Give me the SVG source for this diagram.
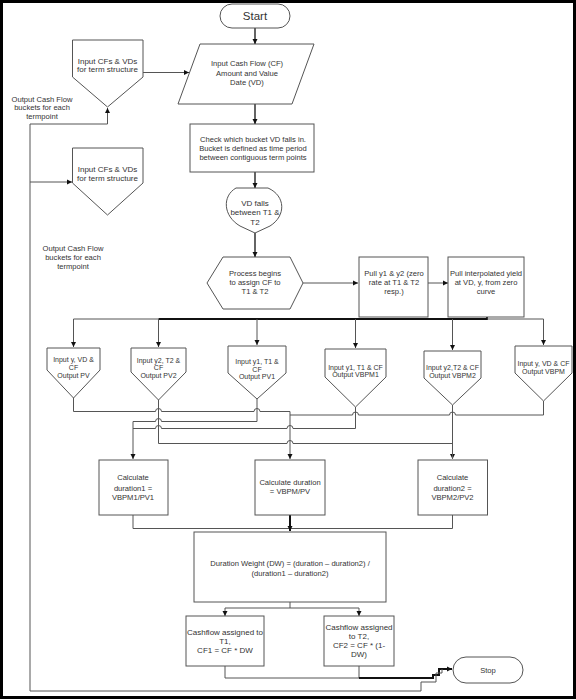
<svg xmlns="http://www.w3.org/2000/svg" width="576" height="700" viewBox="0 0 576 700">
<style>
text{font-family:"Liberation Sans",Arial,sans-serif;font-size:7.6px;fill:#333;text-anchor:middle}
.n{fill:#fff;stroke:#555;stroke-width:1}
.c{fill:none;stroke:#555;stroke-width:1}
.k{fill:none;stroke:#111;stroke-width:1.3}
.t{fill:none;stroke:#111;stroke-width:2}
.s7{font-size:7px}
.s8{font-size:8px}
</style>
<defs>
<marker id="a" markerUnits="userSpaceOnUse" markerWidth="6" markerHeight="6" refX="5" refY="3" orient="auto">
<path d="M0,0.5 L5,3 L0,5.5 Z" fill="#111"/>
</marker>
</defs>
<rect x="0" y="0" width="576" height="700" fill="#fff"/>
<rect x="1.5" y="1.5" width="573" height="696" fill="none" stroke="#000" stroke-width="3"/>

<g id="connectors">
<path class="k" d="M255,28 V44" marker-end="url(#a)"/>
<path class="k" d="M255,104 V124" marker-end="url(#a)"/>
<path class="k" d="M255,172 V188" marker-end="url(#a)"/>
<path class="k" d="M255,233 V257" marker-end="url(#a)"/>
<path class="c" d="M303,283 H358" marker-end="url(#a)"/>
<path class="c" d="M428,283 H448" marker-end="url(#a)"/>
<path class="c" d="M143,72.5 H189" marker-end="url(#a)"/>
<path class="t" d="M487,317 V319 H158.5"/>
<path class="c" d="M158.5,319 H73.5 V347" marker-end="url(#a)"/>
<path class="c" d="M487,319 H543.5 V345" marker-end="url(#a)"/>
<path class="c" d="M158.5,319 V347" marker-end="url(#a)"/>
<path class="c" d="M257,319 V345" marker-end="url(#a)"/>
<path class="c" d="M355.5,319 V348" marker-end="url(#a)"/>
<path class="c" d="M452.5,319 V350" marker-end="url(#a)"/>
<path class="c" d="M73.5,398 V411.5 H155.5 a3,3 0 0 1 6,0 H254 a3,3 0 0 1 6,0 H290 V459" marker-end="url(#a)"/>
<path class="c" d="M290,415 H352.5 a3,3 0 0 1 6,0 H449.5 a3,3 0 0 1 6,0 H543.5 V401"/>
<path class="c" d="M257,399 V421.5 H161.5 a3,3 0 0 0 -6,0 H133 V459" marker-end="url(#a)"/>
<path class="c" d="M355.5,407 V428.5 H293 a3,3 0 0 0 -6,0 H161.5 a3,3 0 0 0 -6,0 H133"/>
<path class="c" d="M158.5,400 V443.5 H287 a3,3 0 0 1 6,0 H452.5 V459" marker-end="url(#a)"/>
<path class="c" d="M452.5,405 V459"/>
<path class="c" d="M133,515 V528.5 H452.5 V515"/>
<path class="t" d="M290,515 V531" marker-end="url(#a)"/>
<path class="c" d="M290,602 V608 M225,608 H359"/>
<path class="c" d="M225,608 V616" marker-end="url(#a)"/>
<path class="c" d="M359,608 V616" marker-end="url(#a)"/>
<path class="c" d="M225,666 V678 H359 V666"/>
<path class="t" d="M359,678 H433 V675 H439 V669 H452" marker-end="url(#a)"/>
<path class="c" d="M442,669 V673 H436 V682 H421 V691 H30 V124 H107.5 V108" marker-end="url(#a)"/>
<path class="c" d="M30,182 H72" marker-end="url(#a)"/>
</g>

<g id="start">
<rect class="n" x="220" y="4" width="70" height="24" rx="12"/>
<text x="255" y="20" style="font-size:11.5px">Start</text>
</g>
<g id="input-cf">
<polygon class="n" points="200,44 314,44 292,104 178,104"/>
<text x="247" y="65.5">Input Cash Flow (CF)</text>
<text x="247" y="75.5">Amount and Value</text>
<text x="247" y="84.5">Date (VD)</text>
</g>
<g id="check-bucket">
<rect class="n" x="190" y="124" width="124" height="48"/>
<text x="253" y="141.7">Check which bucket VD falls in.</text>
<text x="253" y="150.7">Bucket is defined as time period</text>
<text x="253" y="159.7">between contiguous term points</text>
</g>
<g id="vd-falls">
<path class="n" d="M236,188 H268 C286,196 286,216 270,226 L255,233 L240,226 C223,216 222,196 236,188 Z"/>
<text class="s8" x="255" y="205.8">VD falls</text>
<text class="s8" x="255" y="215.3">between T1 &amp;</text>
<text class="s8" x="255" y="224.8">T2</text>
</g>
<g id="process-begins">
<polygon class="n" points="223,257 290,257 303,283 290,309 223,309 207,283"/>
<text x="255" y="275.5">Process begins</text>
<text x="255" y="284.5">to assign CF to</text>
<text x="255" y="293.5">T1 &amp; T2</text>
</g>
<g id="pull-y1-y2">
<rect class="n" x="359" y="257" width="69" height="60"/>
<text x="394" y="275.5">Pull y1 &amp; y2 (zero</text>
<text x="394" y="284.5">rate at T1 &amp; T2</text>
<text x="394" y="293.5">resp.)</text>
</g>
<g id="pull-interp">
<rect class="n" x="448" y="257" width="76" height="60"/>
<text x="486" y="275.5">Pull interpolated yield</text>
<text x="486" y="284.5">at VD, y, from zero</text>
<text x="486" y="293.5">curve</text>
</g>
<g id="input-cfs-1">
<polygon class="n" points="72.5,40 143,40 143,77 107.5,107 72.5,77"/>
<text class="s8" x="107.5" y="63.8">Input CFs &amp; VDs</text>
<text class="s8" x="107.5" y="72.3">for term structure</text>
</g>
<g id="input-cfs-2">
<polygon class="n" points="72.5,148 143,148 143,183 107.5,215 72.5,183"/>
<text class="s8" x="107.5" y="171.8">Input CFs &amp; VDs</text>
<text class="s8" x="107.5" y="180.8">for term structure</text>
</g>
<g id="output-label-1">
<text x="42" y="101.7">Output Cash Flow</text>
<text x="42" y="110.2">buckets for each</text>
<text x="42" y="118.7">termpoint</text>
</g>
<g id="output-label-2">
<text x="73" y="250.7">Output Cash Flow</text>
<text x="73" y="259.7">buckets for each</text>
<text x="73" y="268.7">termpoint</text>
</g>
<g id="pv">
<polygon class="n" points="47,348 100,348 100,370 73.5,398 47,370"/>
<text class="s7" x="73.5" y="361.5">Input y, VD &amp;</text>
<text class="s7" x="73.5" y="369.5">CF</text>
<text class="s7" x="73.5" y="377.5">Output PV</text>
</g>
<g id="pv2">
<polygon class="n" points="131,348 186,348 186,372 158.5,400 131,372"/>
<text class="s7" x="158.5" y="362.5">Input y2, T2 &amp;</text>
<text class="s7" x="158.5" y="370">CF</text>
<text class="s7" x="158.5" y="378">Output PV2</text>
</g>
<g id="pv1">
<polygon class="n" points="228,346 286,346 286,373 257,399 228,373"/>
<text class="s7" x="257" y="364">Input y1, T1 &amp;</text>
<text class="s7" x="257" y="371.5">CF</text>
<text class="s7" x="257" y="379">Output PV1</text>
</g>
<g id="vbpm1">
<polygon class="n" points="325,349 386,349 386,377 355.5,407 325,377"/>
<text class="s7" x="355.5" y="369.5">Input y1, T1 &amp; CF</text>
<text class="s7" x="355.5" y="377">Output VBPM1</text>
</g>
<g id="vbpm2">
<polygon class="n" points="424,351 481,351 481,378 452.5,405 424,378"/>
<text class="s7" x="452.5" y="369.5">Input y2,T2 &amp; CF</text>
<text class="s7" x="452.5" y="377.5">Output VBPM2</text>
</g>
<g id="vbpm">
<polygon class="n" points="515,346 572,346 572,373 543.5,401 515,373"/>
<text class="s7" x="543.5" y="365.5">Input y, VD &amp; CF</text>
<text class="s7" x="543.5" y="373.5">Output VBPM</text>
</g>
<g id="duration1">
<rect class="n" x="99" y="460" width="69" height="55"/>
<text x="133" y="479.7">Calculate</text>
<text x="133" y="490.7">duration1 =</text>
<text x="133" y="499.7">VBPM1/PV1</text>
</g>
<g id="duration">
<rect class="n" x="255" y="460" width="70" height="55"/>
<text x="290" y="484.7">Calculate duration</text>
<text x="290" y="493.7">= VBPM/PV</text>
</g>
<g id="duration2">
<rect class="n" x="418" y="460" width="69.5" height="55"/>
<text x="452.5" y="479.7">Calculate</text>
<text x="452.5" y="490.7">duration2 =</text>
<text x="452.5" y="499.7">VBPM2/PV2</text>
</g>
<g id="dw">
<rect class="n" x="194" y="532" width="192" height="70"/>
<text x="290" y="565.7">Duration Weight (DW)  = (duration – duration2) /</text>
<text x="290" y="575.7">(duration1 – duration2)</text>
</g>
<g id="cf1">
<rect class="n" x="186" y="616" width="78" height="50"/>
<text class="s8" x="225" y="634.8">Cashflow assigned to</text>
<text class="s8" x="225" y="643.8">T1,</text>
<text class="s8" x="225" y="652.8">CF1 = CF * DW</text>
</g>
<g id="cf2">
<rect class="n" x="324" y="616" width="70" height="50"/>
<text class="s8" x="359" y="629.8">Cashflow assigned</text>
<text class="s8" x="359" y="638.8">to T2,</text>
<text class="s8" x="359" y="647.8">CF2 = CF * (1-</text>
<text class="s8" x="359" y="657.3">DW)</text>
</g>
<g id="stop">
<rect class="n" x="453" y="657" width="70" height="26" rx="13"/>
<text x="488" y="672.7">Stop</text>
</g>
</svg>
